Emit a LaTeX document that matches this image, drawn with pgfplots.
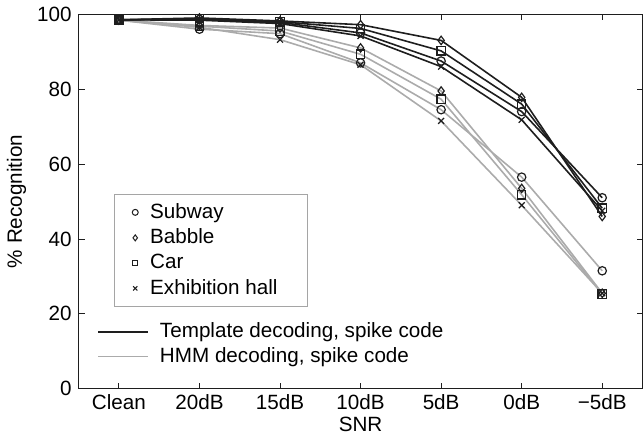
\documentclass[border=0pt]{standalone}
\usepackage{pgfplots}
\pgfplotsset{compat=1.18}
\usepackage{pgfplotstable}
\usepackage{fontspec}
\setmainfont{Liberation Sans}
\definecolor{tgray}{HTML}{ABABAB}
\definecolor{tblack}{HTML}{1E1E1E}
\definecolor{boxgray}{HTML}{A5A5A5}
\newcommand\fs{\fontsize{20.8}{25}\selectfont}
\pgfplotstableread{
x tsub tbab tcar texh hsub hbab hcar hexh
0 98.5 98.5 98.5 98.5 98.4 98.4 98.4 98.4
1 98.6 99.0 98.8 98.4 96.0 97.0 96.8 96.5
2 97.8 98.2 98.0 97.5 94.8 96.3 95.5 93.2
3 95.0 97.2 96.2 94.2 87.0 91.0 89.3 86.5
4 87.5 93.0 90.2 86.0 74.5 79.5 77.3 71.5
5 74.0 77.8 76.0 71.8 56.5 53.5 51.8 49.0
6 51.0 46.0 48.2 47.5 31.5 25.5 25.3 25.5
}\data
\begin{document}
\fs
\begin{tikzpicture}
\pgfplotsset{
  base/.style={width=566bp,height=376bp,scale only axis,
    xmin=-0.5,xmax=6.5,ymin=0,ymax=100,
    /pgf/number format/assume math mode=true},
  tl/.style={color=tblack,line width=1.6bp,mark options={solid,draw=tblack,fill=none,line width=1.2bp},mark size=4.2bp},
  hl/.style={color=tgray,line width=1.6bp,mark options={solid,draw=tblack,fill=none,line width=1.2bp},mark size=4.2bp},
}
\begin{axis}[base,
  xtick={0,...,6}, xticklabels={{\fs Clean},{\fs 20dB},{\fs 15dB},{\fs 10dB},{\fs 5dB},{\fs 0dB},{\fs −5dB}},
  ytick={0,20,...,100}, yticklabel={\fs\pgfmathprintnumber{\tick}},
  tick align=inside, major tick length=6bp,
  axis line style={line width=1bp,tblack}, tick style={line width=0.8bp,tblack},
  xlabel={\fs SNR}, ylabel={\fs \% Recognition},
  xlabel style={yshift=7bp}, ylabel style={yshift=-3bp},
  xticklabel style={yshift=1bp}, yticklabel style={xshift=0bp},
  legend style={at={(axis description cs:0.033,0.187)},anchor=north west,draw=none,fill=none,
    row sep=2.5bp, font=\fs, inner xsep=0bp},
  legend cell align=left,
  legend image code/.code={\path[draw=none] (0bp,0bp) -- (60bp,0bp);\draw[#1,line width=1.6bp] (0bp,0bp) -- (50bp,0bp);},
]
\addplot[hl,mark=o,forget plot] table[x=x,y=hsub]{\data};
\addplot[hl,mark=diamond,forget plot] table[x=x,y=hbab]{\data};
\addplot[hl,mark=square,forget plot] table[x=x,y=hcar]{\data};
\addplot[hl,mark=x,forget plot] table[x=x,y=hexh]{\data};
\addplot[tl,mark=o,forget plot] table[x=x,y=tsub]{\data};
\addplot[tl,mark=diamond,forget plot] table[x=x,y=tbab]{\data};
\addplot[tl,mark=square,forget plot] table[x=x,y=tcar]{\data};
\addplot[tl,mark=x,forget plot] table[x=x,y=texh]{\data};
\addlegendimage{tblack}
\addlegendentry{Template decoding, spike code}
\addlegendimage{tgray}
\addlegendentry{HMM decoding, spike code}
\end{axis}
\begin{axis}[base,hide axis,
  legend style={at={(axis description cs:0.062,0.521)},anchor=north west,draw=boxgray,line width=1.5bp,fill=white,
    row sep=3.5bp, inner xsep=6bp, inner ysep=7bp, font=\fs},
  legend cell align=left,
  legend image code/.code={\path[draw=none] (0bp,0bp) -- (28bp,0bp);\draw[#1] plot coordinates {(15bp,0bp)};},
]
\addlegendimage{only marks,mark=o,tblack,mark size=3bp,line width=1bp}
\addlegendentry{Subway}
\addlegendimage{only marks,mark=diamond,tblack,mark size=3bp,line width=1bp}
\addlegendentry{Babble}
\addlegendimage{only marks,mark=square,tblack,mark size=2.6bp,line width=1bp}
\addlegendentry{Car}
\addlegendimage{only marks,mark=x,tblack,mark size=3bp,line width=1bp}
\addlegendentry{\makebox[150bp][l]{Exhibition hall}}
\end{axis}
\end{tikzpicture}
\end{document}
